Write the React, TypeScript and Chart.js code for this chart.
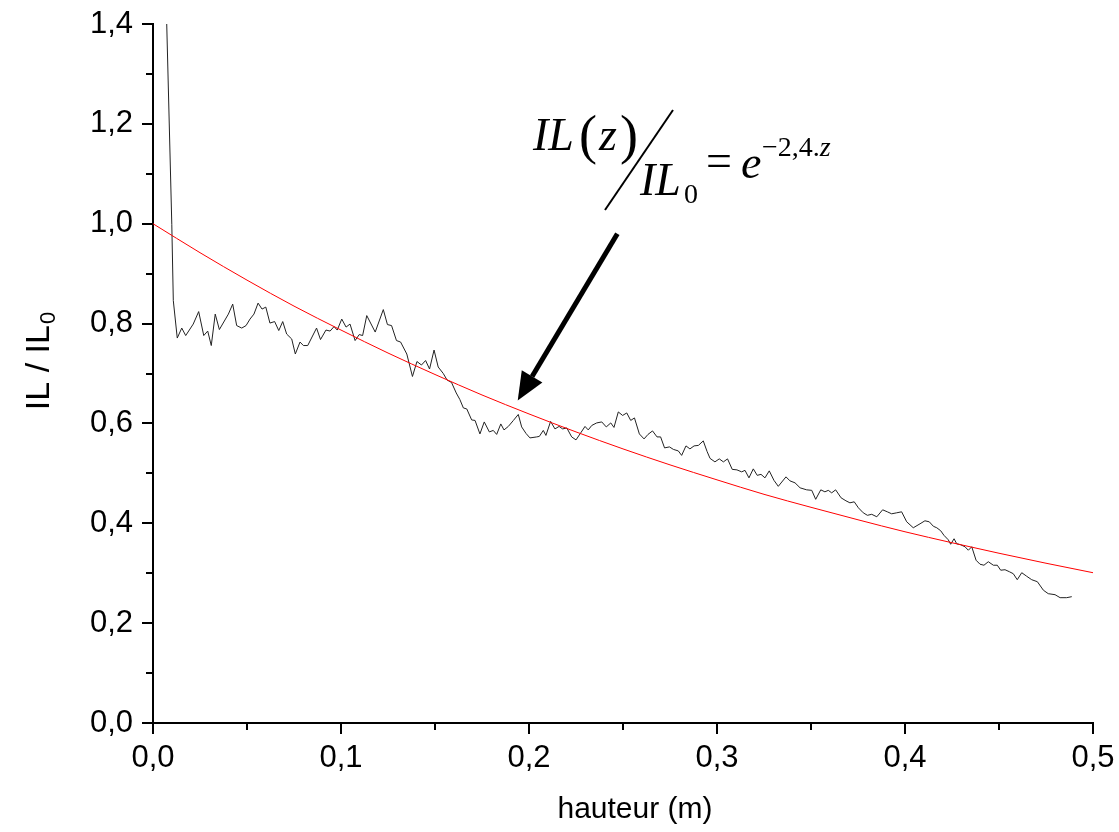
import React, { useEffect, useRef } from "react";
import { Chart, registerables } from "chart.js";

Chart.register(...registerables);

// Measured profile: height (m) and IL / IL0
const heightM = [
  0.0073, 0.0100, 0.0108, 0.0129, 0.0153, 0.0174, 0.0214, 0.0243, 0.0270, 0.0291,
  0.0310, 0.0331, 0.0353, 0.0401, 0.0424, 0.0445, 0.0472, 0.0495, 0.0516, 0.0537,
  0.0559, 0.0580, 0.0600, 0.0622, 0.0647, 0.0669, 0.0690, 0.0711, 0.0738, 0.0757,
  0.0782, 0.0800, 0.0823, 0.0870, 0.0891, 0.0920, 0.0942, 0.0963, 0.0980, 0.1004,
  0.1027, 0.1048, 0.1075, 0.1097, 0.1115, 0.1137, 0.1182, 0.1225, 0.1247, 0.1269,
  0.1295, 0.1317, 0.1350, 0.1380, 0.1404, 0.1428, 0.1450, 0.1471, 0.1495, 0.1517,
  0.1544, 0.1564, 0.1588, 0.1613, 0.1632, 0.1651, 0.1669, 0.1695, 0.1713, 0.1739,
  0.1762, 0.1789, 0.1810, 0.1828, 0.1850, 0.1867, 0.1890, 0.1917, 0.1943, 0.1961,
  0.1984, 0.2005, 0.2041, 0.2055, 0.2076, 0.2090, 0.2115, 0.2138, 0.2160, 0.2179,
  0.2201, 0.2227, 0.2250, 0.2275, 0.2298, 0.2315, 0.2334, 0.2360, 0.2387, 0.2411,
  0.2435, 0.2452, 0.2475, 0.2498, 0.2520, 0.2541, 0.2561, 0.2587, 0.2612, 0.2633,
  0.2657, 0.2681, 0.2700, 0.2721, 0.2747, 0.2768, 0.2794, 0.2812, 0.2835, 0.2856,
  0.2878, 0.2901, 0.2927, 0.2947, 0.2963, 0.2989, 0.3012, 0.3034, 0.3056, 0.3081,
  0.3106, 0.3131, 0.3149, 0.3170, 0.3193, 0.3214, 0.3234, 0.3255, 0.3278, 0.3303,
  0.3326, 0.3367, 0.3388, 0.3415, 0.3442, 0.3477, 0.3504, 0.3525, 0.3552, 0.3574,
  0.3592, 0.3610, 0.3631, 0.3660, 0.3686, 0.3707, 0.3730, 0.3752, 0.3778, 0.3800,
  0.3823, 0.3850, 0.3881, 0.3906, 0.3929, 0.3956, 0.3982, 0.4009, 0.4044, 0.4080,
  0.4106, 0.4129, 0.4151, 0.4169, 0.4190, 0.4207, 0.4230, 0.4243, 0.4261, 0.4275,
  0.4296, 0.4319, 0.4337, 0.4355, 0.4378, 0.4399, 0.4420, 0.4443, 0.4470, 0.4491,
  0.4509, 0.4532, 0.4555, 0.4576, 0.4597, 0.4621, 0.4647, 0.4674, 0.4704, 0.4736,
  0.4762, 0.4798, 0.4825, 0.4860, 0.4887,
];
const ratio = [
  1.400, 0.998, 0.846, 0.771, 0.791, 0.776, 0.799, 0.824, 0.776, 0.785,
  0.756, 0.819, 0.788, 0.819, 0.839, 0.796, 0.791, 0.796, 0.809, 0.819,
  0.841, 0.829, 0.833, 0.801, 0.804, 0.786, 0.804, 0.779, 0.769, 0.739,
  0.763, 0.756, 0.756, 0.791, 0.768, 0.787, 0.785, 0.794, 0.787, 0.809,
  0.793, 0.799, 0.766, 0.778, 0.776, 0.816, 0.783, 0.828, 0.798, 0.796,
  0.766, 0.763, 0.739, 0.694, 0.724, 0.717, 0.726, 0.709, 0.747, 0.713,
  0.700, 0.687, 0.682, 0.661, 0.648, 0.631, 0.629, 0.607, 0.606, 0.579,
  0.603, 0.583, 0.586, 0.578, 0.599, 0.587, 0.594, 0.606, 0.618, 0.593,
  0.580, 0.571, 0.573, 0.574, 0.586, 0.576, 0.604, 0.589, 0.594, 0.589,
  0.591, 0.573, 0.567, 0.581, 0.594, 0.587, 0.596, 0.601, 0.603, 0.593,
  0.601, 0.592, 0.623, 0.616, 0.621, 0.606, 0.611, 0.579, 0.569, 0.578,
  0.585, 0.573, 0.573, 0.551, 0.553, 0.548, 0.545, 0.536, 0.555, 0.549,
  0.555, 0.556, 0.565, 0.544, 0.530, 0.523, 0.529, 0.523, 0.529, 0.508,
  0.507, 0.503, 0.506, 0.491, 0.509, 0.496, 0.498, 0.491, 0.505, 0.486,
  0.474, 0.493, 0.485, 0.481, 0.471, 0.467, 0.466, 0.448, 0.467, 0.463,
  0.466, 0.461, 0.467, 0.451, 0.445, 0.441, 0.443, 0.431, 0.421, 0.416,
  0.418, 0.413, 0.427, 0.423, 0.419, 0.421, 0.423, 0.403, 0.391, 0.399,
  0.405, 0.403, 0.394, 0.391, 0.385, 0.376, 0.367, 0.358, 0.369, 0.359,
  0.357, 0.353, 0.346, 0.353, 0.326, 0.318, 0.316, 0.323, 0.316, 0.316,
  0.306, 0.307, 0.303, 0.299, 0.287, 0.301, 0.294, 0.287, 0.283, 0.266,
  0.259, 0.257, 0.251, 0.251, 0.253,
];

// Fitted curve IL(z)/IL0
const fitHeight = [
  0.000, 0.025, 0.050, 0.075, 0.100, 0.125, 0.150, 0.175, 0.200, 0.225, 0.250,
  0.275, 0.300, 0.325, 0.350, 0.375, 0.400, 0.425, 0.450, 0.475, 0.500,
];
const fitRatio = [
  1.000, 0.942, 0.887, 0.835, 0.787, 0.741, 0.698, 0.657, 0.619, 0.583, 0.549,
  0.517, 0.487, 0.458, 0.432, 0.407, 0.383, 0.361, 0.340, 0.320, 0.301,
];

const xTickLabels = ["0,0", "0,1", "0,2", "0,3", "0,4", "0,5"];
const yTickLabels = ["0,0", "0,2", "0,4", "0,6", "0,8", "1,0", "1,2", "1,4"];

const xTitle = "hauteur (m)";
const yTitleMain = "IL / IL";
const yTitleSub = "0";

const FONT = "'Liberation Sans', Arial, 'DejaVu Sans', sans-serif";
const SERIF = "'Liberation Serif', 'Times New Roman', serif";

const tickPlugin = {
  id: "customTicks",
  afterDraw(chart: any) {
    const { ctx, scales } = chart;
    const xs = scales.x;
    const ys = scales.y;
    ctx.save();
    ctx.strokeStyle = "#000";
    ctx.lineWidth = 2;
    ctx.beginPath();
    xs.ticks.forEach((t: any) => {
      const major = Math.round(t.value * 100) % 10 === 0;
      const px = Math.round(xs.getPixelForValue(t.value));
      ctx.moveTo(px, ys.bottom);
      ctx.lineTo(px, ys.bottom + (major ? 11 : 7));
    });
    ys.ticks.forEach((t: any) => {
      const major = Math.round(t.value * 10) % 2 === 0;
      const py = Math.round(ys.getPixelForValue(t.value));
      ctx.moveTo(xs.left, py);
      ctx.lineTo(xs.left - (major ? 11 : 7), py);
    });
    ctx.stroke();

    // axis titles
    ctx.fillStyle = "#000";
    ctx.textBaseline = "alphabetic";
    ctx.font = `30px ${FONT}`;
    ctx.textAlign = "center";
    ctx.fillText(xTitle, (xs.left + xs.right) / 2 + 12, 818);

    ctx.save();
    ctx.translate(49, (ys.top + ys.bottom) / 2 - 12);
    ctx.rotate(-Math.PI / 2);
    ctx.font = `34px ${FONT}`;
    const wMain = ctx.measureText(yTitleMain).width;
    ctx.font = `22px ${FONT}`;
    const wSub = ctx.measureText(yTitleSub).width;
    const start = -(wMain + wSub) / 2;
    ctx.textAlign = "left";
    ctx.font = `34px ${FONT}`;
    ctx.fillText(yTitleMain, start, 0);
    ctx.font = `22px ${FONT}`;
    ctx.fillText(yTitleSub, start + wMain + 1, 6);
    ctx.restore();
    ctx.restore();
  },
};

const annotationPlugin = {
  id: "formula",
  afterDraw(chart: any) {
    const { ctx, scales } = chart;
    const X = (v: number) => scales.x.getPixelForValue(v);
    const Y = (v: number) => scales.y.getPixelForValue(v);
    ctx.save();
    ctx.fillStyle = "#000";
    ctx.strokeStyle = "#000";
    ctx.textBaseline = "alphabetic";
    ctx.textAlign = "left";

    // Arrow
    const x1 = X(0.247), y1 = Y(0.98);
    const x2 = X(0.194), y2 = Y(0.646);
    const ang = Math.atan2(y2 - y1, x2 - x1);
    const headLen = 28, headW = 12;
    const bx = x2 - headLen * Math.cos(ang);
    const by = y2 - headLen * Math.sin(ang);
    ctx.lineWidth = 5;
    ctx.beginPath();
    ctx.moveTo(x1, y1);
    ctx.lineTo(bx, by);
    ctx.stroke();
    ctx.beginPath();
    ctx.moveTo(x2, y2);
    ctx.lineTo(bx + headW * Math.sin(ang), by - headW * Math.cos(ang));
    ctx.lineTo(bx - headW * Math.sin(ang), by + headW * Math.cos(ang));
    ctx.closePath();
    ctx.fill();

    // Formula  IL(z) / IL0 = e^{-2,4.z}
    const ox = X(0), oy = Y(0);
    const at = (dx: number, dy: number) => [ox + dx, oy - dy];
    let p = at(380, 573);
    ctx.font = `italic 46px ${SERIF}`;
    ctx.fillText("IL", p[0], p[1]);
    ctx.font = `54px ${SERIF}`;
    ctx.fillText("(", p[0] + 46, p[1] + 3);
    ctx.font = `italic 46px ${SERIF}`;
    ctx.fillText("z", p[0] + 66, p[1]);
    ctx.font = `54px ${SERIF}`;
    ctx.fillText(")", p[0] + 87, p[1] + 3);

    // slash
    ctx.lineWidth = 2;
    ctx.beginPath();
    ctx.moveTo(ox + 452, oy - 513);
    ctx.lineTo(ox + 520, oy - 613);
    ctx.stroke();

    p = at(487, 528);
    ctx.font = `italic 46px ${SERIF}`;
    ctx.fillText("IL", p[0], p[1]);
    ctx.font = `28px ${SERIF}`;
    ctx.fillText("0", p[0] + 44, p[1] + 8);

    p = at(553, 545);
    ctx.font = `46px ${SERIF}`;
    ctx.fillText("=", p[0], p[1] - 2);
    ctx.font = `italic 46px ${SERIF}`;
    ctx.fillText("e", p[0] + 35, p[1]);
    ctx.font = `28px ${SERIF}`;
    ctx.fillText("\u22122,4.", p[0] + 56, p[1] - 22);
    const w = ctx.measureText("\u22122,4.").width;
    ctx.font = `italic 28px ${SERIF}`;
    ctx.fillText("z", p[0] + 56 + w, p[1] - 22);
    ctx.restore();
  },
};

export default function App() {
  const ref = useRef<HTMLCanvasElement | null>(null);
  useEffect(() => {
    if (!ref.current) return;
    const measured = heightM.map((x, i) => ({ x, y: ratio[i] }));
    const fitted = fitHeight.map((x, i) => ({ x, y: fitRatio[i] }));
    const chart = new Chart(ref.current, {
      type: "line",
      data: {
        datasets: [
          {
            data: fitted,
            borderColor: "#ff0000",
            borderWidth: 1,
            pointRadius: 0,
            cubicInterpolationMode: "monotone",
          },
          {
            data: measured,
            borderColor: "#222222",
            borderWidth: 1,
            pointRadius: 0,
            tension: 0,
          },
        ],
      },
      options: {
        animation: false,
        responsive: false,
        maintainAspectRatio: false,
        layout: { padding: { left: 0, top: 24, right: 26, bottom: 0 } },
        plugins: { legend: { display: false }, tooltip: { enabled: false } },
        scales: {
          x: {
            type: "linear",
            min: 0,
            max: 0.5,
            afterFit: (s: any) => {
              s.height = 109;
              s.paddingLeft = 0;
              s.paddingRight = 0;
            },
            grid: {
              display: true,
              drawOnChartArea: false,
              drawTicks: true,
              tickLength: 11,
              color: "rgba(0,0,0,0)",
            },
            border: { display: true, color: "#000", width: 2 },
            ticks: {
              stepSize: 0.05,
              autoSkip: false,
              maxRotation: 0,
              padding: 6,
              color: "#000",
              font: { family: FONT, size: 31 },
              callback: (v: any) => {
                const n = Math.round(Number(v) * 100);
                return n % 10 === 0 ? xTickLabels[n / 10] : "";
              },
            },
            title: { display: false },
          },
          y: {
            type: "linear",
            min: 0,
            max: 1.4,
            afterFit: (s: any) => {
              s.width = 153;
              s.paddingTop = 0;
              s.paddingBottom = 0;
            },
            grid: {
              display: true,
              drawOnChartArea: false,
              drawTicks: true,
              tickLength: 11,
              color: "rgba(0,0,0,0)",
            },
            border: { display: true, color: "#000", width: 2 },
            ticks: {
              stepSize: 0.1,
              autoSkip: false,
              padding: 9,
              color: "#000",
              font: { family: FONT, size: 31 },
              callback: (v: any) => {
                const n = Math.round(Number(v) * 10);
                return n % 2 === 0 ? yTickLabels[n / 2] : "";
              },
            },
            title: { display: false },
          },
        },
      },
      plugins: [tickPlugin, annotationPlugin],
    });
    return () => chart.destroy();
  }, []);
  return (
    <div style={{ position: "fixed", left: 0, top: 0, width: 1119, height: 832, background: "#fff" }}>
      <canvas ref={ref} width={1119} height={832} style={{ display: "block" }} />
    </div>
  );
}
